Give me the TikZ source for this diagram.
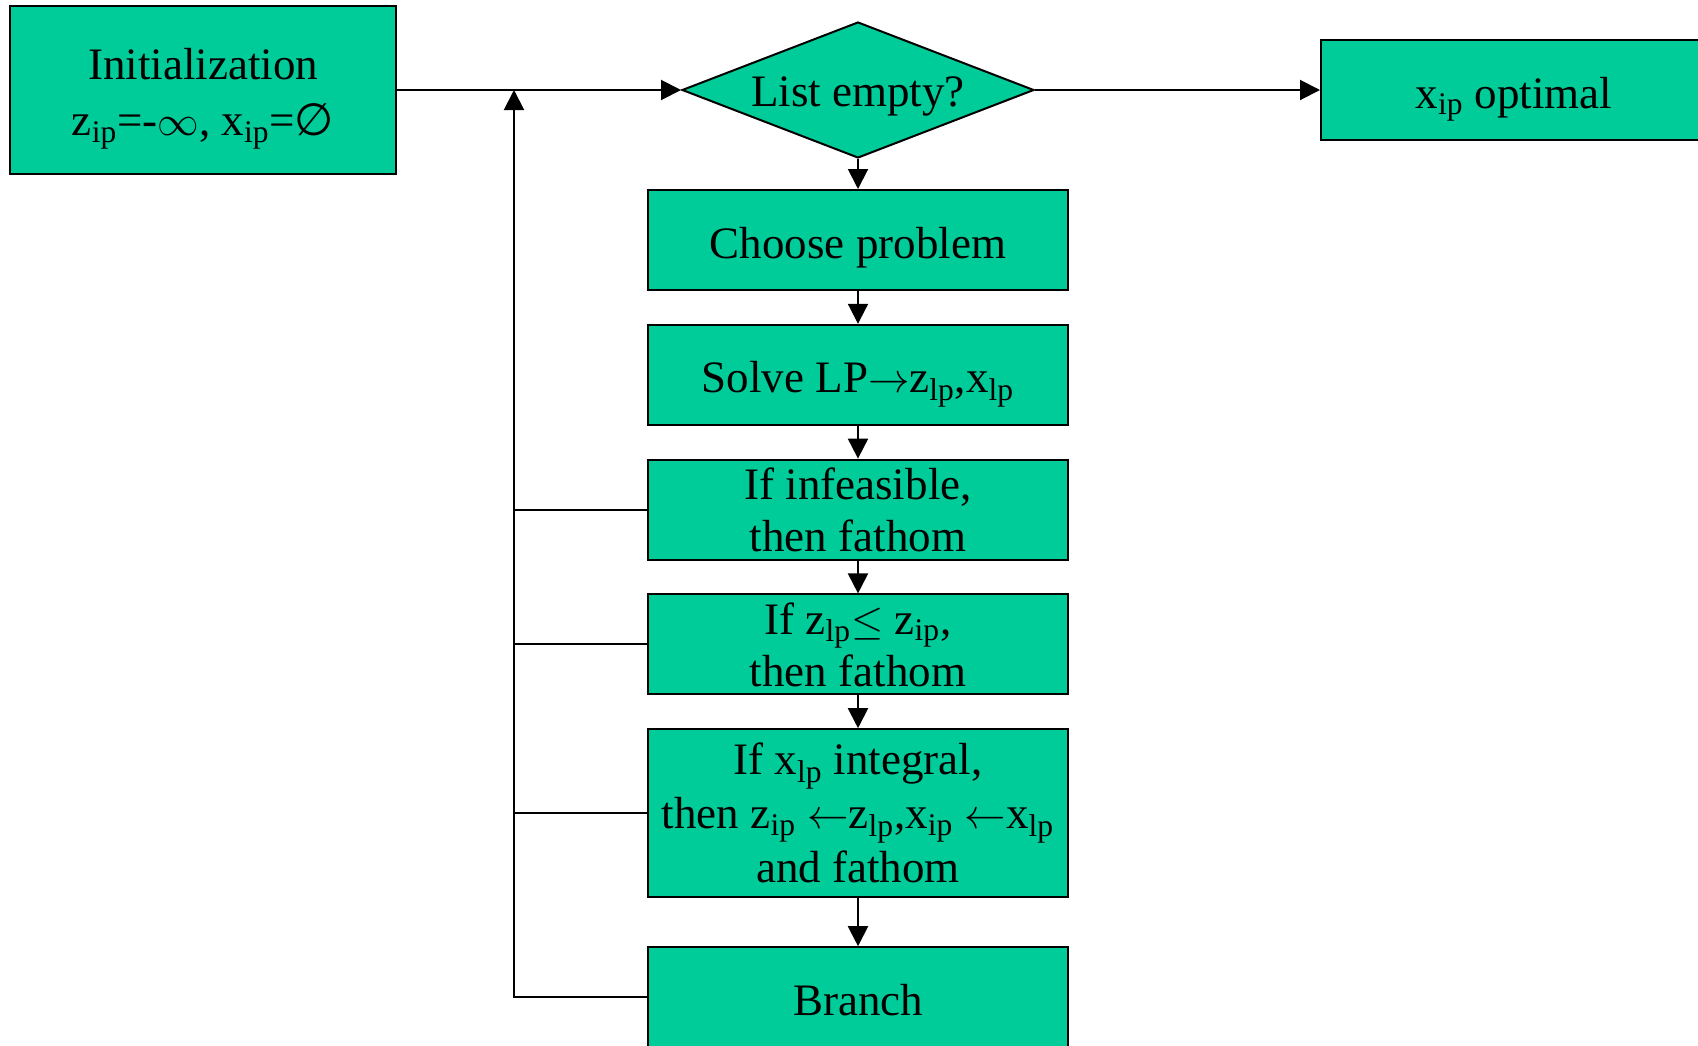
\documentclass[tikz,border=0pt]{standalone}
\usepackage{fontspec}
\setmainfont{Liberation Serif}
\newfontfamily\symbolfont{DejaVu Sans}
\usepackage{tikz}
\usetikzlibrary{arrows.meta,positioning,shapes.geometric}
\usepackage{xcolor}
\definecolor{tealgreen}{RGB}{0,204,153}
\newcommand{\subtxt}[1]{\textsubscript{#1}}

\begin{document}
\begin{tikzpicture}[x=0.5pt, y=-0.5pt, >={Triangle[length=10pt, width=10pt]}, node distance=16.4pt,
  box/.style={rectangle, draw=black, fill=tealgreen, line width=1pt, minimum width=210pt, minimum height=50pt,
    inner sep=0pt, align=center, font=\fontsize{22.5}{26}\selectfont},
  oneline/.style={text height=18pt, text depth=0pt},
  decision/.style={diamond, draw=black, fill=tealgreen, line width=1pt, minimum width=176pt, minimum height=68pt,
    shape aspect=2.6, inner sep=0pt, text height=16pt, text depth=0pt, font=\fontsize{22.5}{26}\selectfont}]
  \useasboundingbox (0,0) rectangle (1698,1045);
  \node (init) [box, minimum width=193pt, minimum height=84pt, font=\fontsize{22.5}{28}\selectfont] at (203,90)
    {\rule{0pt}{24.5pt}Initialization\\z\subtxt{ip}=-$\infty$, x\subtxt{ip}={\symbolfont ∅}};
  \node (empty) [decision] at (858,90) {List empty?};
  \node (opt) [box, oneline, minimum width=193pt, anchor=west] at (1320,90) {x\subtxt{ip} optimal};
  \node (choose) [box, oneline, below=15pt of empty] {Choose problem};
  \node (solve) [box, oneline, below=of choose] {Solve LP$\rightarrow$z\subtxt{lp},x\subtxt{lp}};
  \node (infeas) [box, below=of solve] {If infeasible,\\then fathom};
  \node (bound) [box, below=of infeas] {If z\subtxt{lp}$\leq$ z\subtxt{ip},\\then fathom};
  \node (integ) [box, minimum height=84pt, font=\fontsize{22.5}{27}\selectfont, below=of bound]
    {If x\subtxt{lp} integral,\\then z\subtxt{ip} $\leftarrow$z\subtxt{lp},x\subtxt{ip} $\leftarrow$x\subtxt{lp}\\and fathom};
  \node (branch) [box, oneline, below=24pt of integ] {Branch};
  \coordinate (join) at (514,90);
  \draw[->, line width=1pt] (init) -- (empty);
  \draw[->, line width=1pt] (empty) -- (opt);
  \foreach \a/\b in {empty/choose, choose/solve, solve/infeas, infeas/bound, bound/integ, integ/branch}
    \draw[->, line width=1pt] (\a) -- (\b);
  \draw[->, line width=1pt] (branch.west) -| (join);
  \foreach \n in {infeas, bound, integ}
    \draw[line width=1pt] (\n.west) -- (\n.west -| join);
\end{tikzpicture}
\end{document}
